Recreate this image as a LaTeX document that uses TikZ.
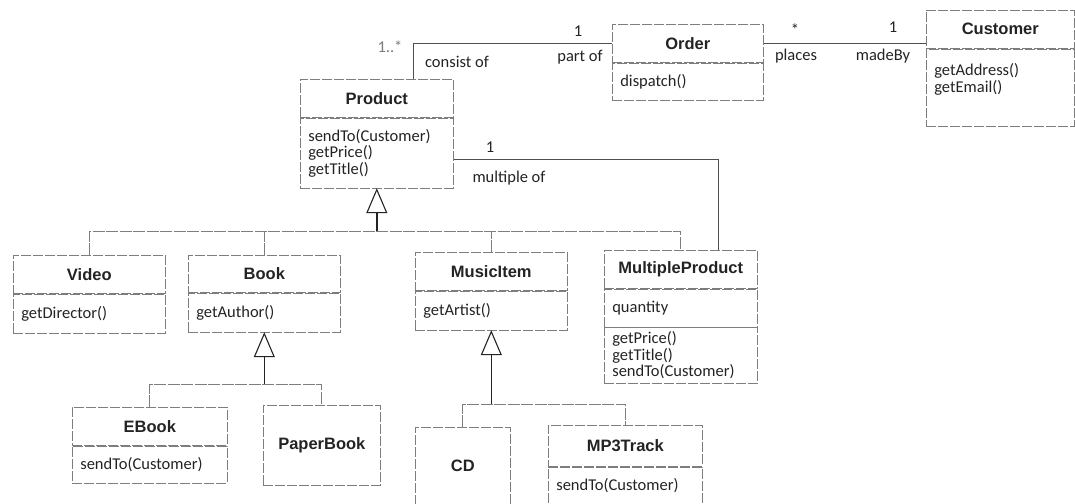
\documentclass[tikz,border=0pt]{standalone}
\usepackage{fontspec}
\setmainfont{Carlito}
\newfontfamily\hdfont{Liberation Sans}
\usetikzlibrary{positioning,arrows.meta}
\definecolor{umlline}{RGB}{125,125,125}
\definecolor{umlink}{RGB}{35,35,35}

\begin{document}
\begin{tikzpicture}[x=1pt,y=-1pt,font=\fontsize{16.5}{16.5}\selectfont,text=umlink,
  cname/.style={draw=umlline,dash pattern=on 10pt off 2pt,line width=.6pt,anchor=north west,minimum width=#1,inner sep=0pt,font=\fontsize{16.5}{16.5}\selectfont\hdfont\bfseries},
  cops/.style={draw=umlline,dash pattern=on 10pt off 2pt,line width=.6pt,text width=#1,align=left,inner xsep=8pt,inner ysep=2pt},
  assoc/.style={draw=umlink!80,line width=.8pt},
  bus/.style={draw=umlline,line width=.8pt,dash pattern=on 12pt off 1.5pt},
  gen/.style={draw=umlink,line width=1.6pt,-{Triangle[open,length=25pt,width=21pt,line width=1.1pt]}},
  lbl/.style={inner sep=1pt}]
  \useasboundingbox (0,0) rectangle (1075,503);
  % top row
  \node[cname=153,minimum height=38] (prodt) at (300,79) {Product};
  \node[cops=137,minimum height=70,below=0pt of prodt] (prodb) {sendTo(Customer)\\getPrice()\\getTitle()};
  \node[cname=151,minimum height=38] (ordt) at (612,24) {Order};
  \node[cops=135,minimum height=37,below=0pt of ordt] (ordb) {dispatch()};
  \node[cname=148,minimum height=38] (custt) at (926,10) {Customer};
  \node[cops=132,minimum height=77,below=0pt of custt] (custb) {getAddress()\\getEmail()\\[2pt]\mbox{}};
  % subclasses of Product
  \node[cname=152,minimum height=38] (vidt) at (13,255) {Video};
  \node[cops=136,minimum height=39,below=0pt of vidt] (vidb) {getDirector()};
  \node[cname=152,minimum height=37] (bookt) at (188,255) {Book};
  \node[cops=136,minimum height=39,below=0pt of bookt] (bookb) {getAuthor()};
  \node[cname=152,minimum height=38] (musict) at (415,252) {MusicItem};
  \node[cops=136,minimum height=39,below=0pt of musict] (musicb) {getArtist()};
  \node[cname=153,minimum height=38] (mpt) at (604,250) {MultipleProduct};
  \node[cops=137,minimum height=38,below=0pt of mpt] (mpa) {quantity};
  \node[cops=137,minimum height=56,below=0pt of mpa] (mpb) {getPrice()\\getTitle()\\sendTo(Customer)};
  % subclasses of Book and MusicItem
  \node[cname=155,minimum height=38] (ebookt) at (72,407) {EBook};
  \node[cops=139,minimum height=37,below=0pt of ebookt] (ebookb) {sendTo(Customer)};
  \node[cname=117,minimum height=80] (paper) at (263,405) {PaperBook};
  \node[cname=95,minimum height=78] (cd) at (415,427) {CD};
  \node[cname=154,minimum height=41] (mp3t) at (548,425) {MP3Track};
  \node[cops=138,minimum height=38,below=0pt of mp3t] (mp3b) {sendTo(Customer)};
  % associations
  \draw[assoc] ([xshift=113pt]prodt.north west) |- (ordt.west);
  \draw[assoc] (ordt.east) -- (ordt.east -| custt.west);
  \draw[assoc] ([yshift=-6pt]prodb.east) -| ([xshift=114pt]mpt.north west);
  \node[lbl,text=umlink!60] at (390,47) {1..*};
  \node[lbl] at (578,31) {1};
  \node[lbl] at (457,62) {consist of};
  \node[lbl] at (580,57) {part of};
  \node[lbl] at (795,30) {*};
  \node[lbl] at (893,27) {1};
  \node[lbl] at (796,56) {places};
  \node[lbl] at (883,56) {madeBy};
  \node[lbl] at (490,147) {1};
  \node[lbl] at (509,178) {multiple of};
  % generalizations
  \coordinate (pbus) at ([yshift=-43pt]prodb.south);
  \draw[bus] (vidt.north) |- (mpt.north |- pbus) -- (mpt.north);
  \draw[bus] (bookt.north) -- (bookt.north |- pbus);
  \draw[bus] (musict.north) -- (musict.north |- pbus);
  \draw[gen] (pbus) -- (prodb.south);
  \coordinate (bbus) at ([yshift=-52pt]bookb.south);
  \draw[bus] (ebookt.north) |- (paper.north |- bbus) -- (paper.north);
  \draw[gen] (bbus) -- (bookb.south);
  \coordinate (mbus) at ([yshift=-74pt]musicb.south);
  \draw[bus] (cd.north) |- (mp3t.north |- mbus) -- (mp3t.north);
  \draw[gen] (mbus) -- (musicb.south);
\end{tikzpicture}
\end{document}
